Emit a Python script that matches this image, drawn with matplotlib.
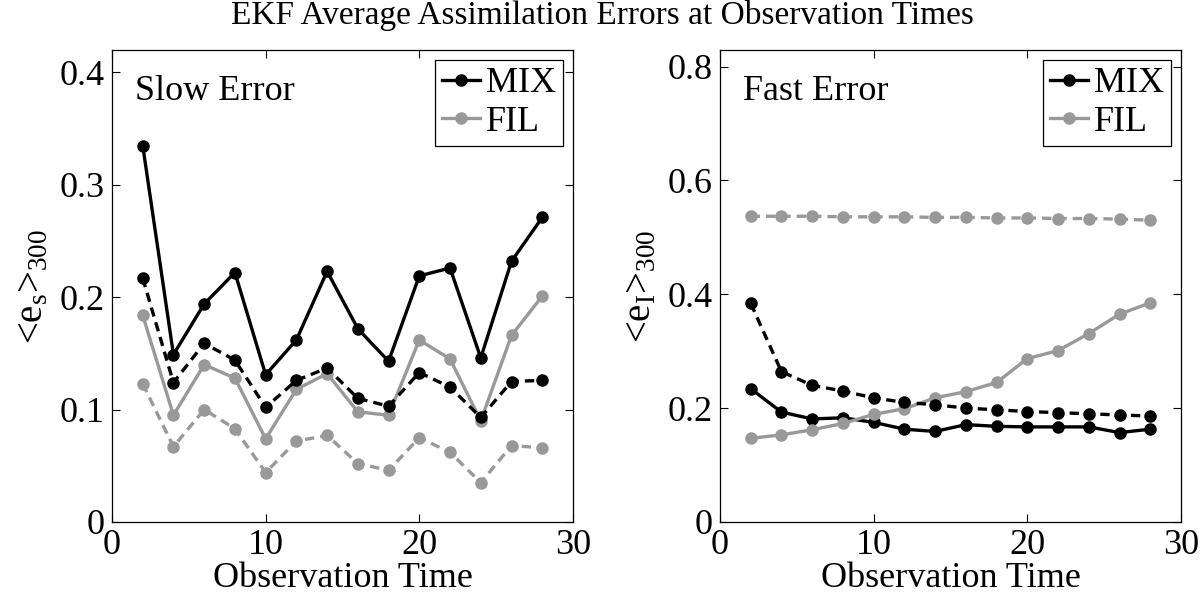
import matplotlib.pyplot as plt
import numpy as np

plt.rcParams['font.family'] = ['Liberation Serif']
plt.rcParams['mathtext.fontset'] = 'custom'
plt.rcParams['mathtext.rm'] = 'Liberation Serif'
plt.rcParams['mathtext.it'] = 'Liberation Serif'
plt.rcParams['mathtext.default'] = 'rm'

# observation times
t = [2, 4, 6, 8, 10, 12, 14, 16, 18, 20, 22, 24, 26, 28]

# slow error
slow_mix = [0.335, 0.149, 0.194, 0.222, 0.131, 0.162, 0.223, 0.172, 0.143, 0.219, 0.226, 0.146, 0.232, 0.271]
slow_mix_d = [0.217, 0.124, 0.159, 0.144, 0.102, 0.126, 0.137, 0.110, 0.103, 0.133, 0.120, 0.093, 0.125, 0.126]
slow_fil = [0.184, 0.095, 0.140, 0.128, 0.074, 0.118, 0.132, 0.098, 0.095, 0.162, 0.145, 0.090, 0.166, 0.201]
slow_fil_d = [0.123, 0.067, 0.100, 0.083, 0.044, 0.072, 0.077, 0.052, 0.046, 0.075, 0.062, 0.035, 0.068, 0.066]

# fast error
fast_mix = [0.234, 0.193, 0.181, 0.183, 0.175, 0.163, 0.159, 0.171, 0.168, 0.167, 0.167, 0.167, 0.157, 0.163]
fast_mix_d = [0.384, 0.264, 0.240, 0.230, 0.218, 0.210, 0.206, 0.200, 0.197, 0.194, 0.192, 0.190, 0.188, 0.186]
fast_fil = [0.147, 0.153, 0.162, 0.173, 0.189, 0.199, 0.218, 0.229, 0.245, 0.287, 0.301, 0.331, 0.365, 0.385]
fast_fil_d = [0.537, 0.537, 0.537, 0.536, 0.536, 0.536, 0.535, 0.535, 0.534, 0.534, 0.533, 0.533, 0.532, 0.530]

gray = '#999999'
lw = 2.4
ms = 8

fig = plt.figure(figsize=(12.04, 5.96), dpi=100)
ax1 = fig.add_axes([0.0930, 0.1242, 0.3829, 0.7919])
ax2 = fig.add_axes([0.5980, 0.1242, 0.3829, 0.7919])

def panel(ax, mix, mixd, fil, fild, ylim, yticks, label, ylab):
    ax.plot(t, mix, '-o', color='k', lw=lw, ms=ms, label='MIX')
    ax.plot(t, fil, '-o', color=gray, lw=lw, ms=ms, label='FIL')
    ax.plot(t, mixd, 'o', ls=(0, (2.8, 1.8)), color='k', lw=lw, ms=ms)
    ax.plot(t, fild, 'o', ls=(0, (2.8, 1.8)), color=gray, lw=lw, ms=ms)
    ax.set_xlim(0, 30)
    ax.set_ylim(*ylim)
    ax.set_xticks([0, 10, 20, 30])
    ax.set_yticks(yticks)
    ax.set_yticklabels([('%g' % v) for v in yticks])
    ax.tick_params(direction='in', top=True, right=True, length=6, width=0.8,
                   labelsize=26, pad=5)
    for s in ax.spines.values():
        s.set_linewidth(0.9)
    ax.set_xlabel('Observation Time', fontsize=26, labelpad=0)
    ax.set_ylabel(ylab, fontsize=28, labelpad=6)
    ax.text(0.05, 0.894, label, transform=ax.transAxes, fontsize=26,
            va='baseline')
    leg = ax.legend(loc='upper right', fontsize=26, handlelength=1.05,
                    handletextpad=0.17, labelspacing=0.15, borderpad=0.2,
                    borderaxespad=0.27, fancybox=False, framealpha=1)
    leg.get_frame().set_edgecolor('k')
    leg.get_frame().set_linewidth(0.9)

panel(ax1, slow_mix, slow_mix_d, slow_fil, slow_fil_d, (0, 0.42),
      [0, 0.1, 0.2, 0.3, 0.4], 'Slow Error', '<e$_s$>$_{300}$')
panel(ax2, fast_mix, fast_mix_d, fast_fil, fast_fil_d, (0, 0.829),
      [0, 0.2, 0.4, 0.6, 0.8], 'Fast Error', '<e$_I$>$_{300}$')

fig.suptitle('EKF Average Assimilation Errors at Observation Times',
             fontsize=24, y=1.0, va='top')

fig.savefig('out.png', dpi=100)
